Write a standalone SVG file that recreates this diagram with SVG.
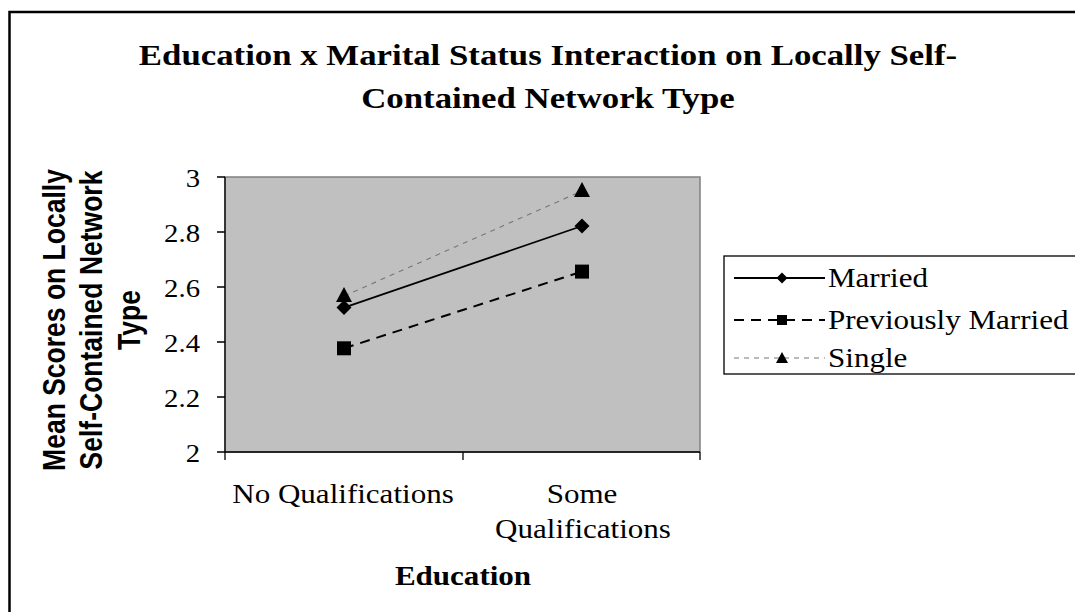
<svg xmlns="http://www.w3.org/2000/svg" width="1075" height="612" viewBox="0 0 1075 612">
<style>
.serif{font-family:"Liberation Serif","Times New Roman",serif;fill:#000}
.sans{font-family:"Liberation Sans",Arial,sans-serif;fill:#000;font-weight:bold}
.tick{font-size:25px}
.cat{font-size:27px}
.leg{font-size:27px}
.axis{stroke:#000;stroke-width:1.3;fill:none}
.married{stroke:#000;stroke-width:1.8;fill:none}
.prev{stroke:#000;stroke-width:2;fill:none;stroke-dasharray:10 7}
.single{stroke:#777;stroke-width:1.1;fill:none;stroke-dasharray:5 5}
.mk{fill:#000}
</style>
<defs>
<path id="dia" d="M0,-7.5 L7.5,0 L0,7.5 L-7.5,0 Z"/>
<path id="sq" d="M-7,-7 H7 V7 H-7 Z"/>
<path id="tri" d="M0,-8 L8,7 L-8,7 Z"/>
<path id="diaS" d="M0,-5.5 L5.5,0 L0,5.5 L-5.5,0 Z"/>
<path id="sqS" d="M-5,-5 H5 V5 H-5 Z"/>
<path id="triS" d="M0,-6 L6,5 L-6,5 Z"/>
</defs>
<rect width="1075" height="612" fill="#fff"/>
<rect id="frame" x="9.5" y="12" width="1080" height="620" fill="none" stroke="#000" stroke-width="2.5"/>

<g id="title" class="serif" font-weight="bold" font-size="30" text-anchor="middle">
<text transform="translate(548,65) scale(1.16,1)">Education x Marital Status Interaction on Locally Self-</text>
<text transform="translate(548,108) scale(1.16,1)">Contained Network Type</text>
</g>

<g id="plot-area">
<rect x="225" y="177" width="475" height="275" fill="#C0C0C0" stroke="#808080" stroke-width="1.5"/>
</g>

<g id="y-axis">
<path class="axis" d="M225,177 V452 M217,177 H225 M217,232 H225 M217,287 H225 M217,342 H225 M217,397 H225 M217,452 H225"/>
<g class="serif tick" text-anchor="end">
<text transform="translate(200,186.5) scale(1.15,1)">3</text>
<text transform="translate(200,241.5) scale(1.15,1)">2.8</text>
<text transform="translate(200,296.5) scale(1.15,1)">2.6</text>
<text transform="translate(200,351.5) scale(1.15,1)">2.4</text>
<text transform="translate(200,406.5) scale(1.15,1)">2.2</text>
<text transform="translate(200,461.5) scale(1.15,1)">2</text>
</g>
</g>

<g id="y-title" class="sans" font-size="26.5" text-anchor="middle" transform="translate(0,320) scale(1.15,1) rotate(-90)">
<text x="0" y="56.5">Mean Scores on Locally</text>
<text x="0" y="88.7">Self-Contained Network</text>
<text x="0" y="121.7">Type</text>
</g>

<g id="x-axis">
<path class="axis" d="M225,452 H700 M225,452 V460 M463,452 V460 M700,452 V460"/>
<g class="serif cat" text-anchor="middle">
<text transform="translate(343,503) scale(1.15,1)">No Qualifications</text>
<text transform="translate(582,503) scale(1.15,1)">Some</text>
<text transform="translate(583,538) scale(1.15,1)">Qualifications</text>
</g>
</g>

<g id="x-title" class="serif" font-weight="bold" font-size="27" text-anchor="middle">
<text transform="translate(463,585) scale(1.15,1)">Education</text>
</g>

<g id="connectors">
<path class="married" d="M344,307.6 L582,226"/>
<path class="prev" d="M344,348.3 L582,271.6"/>
<path class="single" d="M344,296 L582,191"/>
</g>

<g id="series-married" class="mk">
<use href="#dia" x="344" y="307.6"/>
<use href="#dia" x="582" y="226"/>
</g>
<g id="series-previously-married" class="mk">
<use href="#sq" x="344" y="348.3"/>
<use href="#sq" x="582" y="271.6"/>
</g>
<g id="series-single" class="mk">
<use href="#tri" x="344" y="295"/>
<use href="#tri" x="582" y="190"/>
</g>

<g id="legend">
<rect x="724" y="256" width="360" height="118" fill="#fff" stroke="#000" stroke-width="1.3"/>
<path class="married" d="M734,278 H825"/>
<use href="#diaS" x="782" y="278" class="mk"/>
<path class="prev" d="M734,320 H825" stroke-dasharray="9 7"/>
<use href="#sqS" x="782" y="320" class="mk"/>
<path class="single" d="M734,358 H825"/>
<use href="#triS" x="782" y="358" class="mk"/>
<g class="serif leg">
<text transform="translate(828,287) scale(1.15,1)">Married</text>
<text transform="translate(828,329) scale(1.15,1)">Previously Married</text>
<text transform="translate(828,367) scale(1.15,1)">Single</text>
</g>
</g>
</svg>
